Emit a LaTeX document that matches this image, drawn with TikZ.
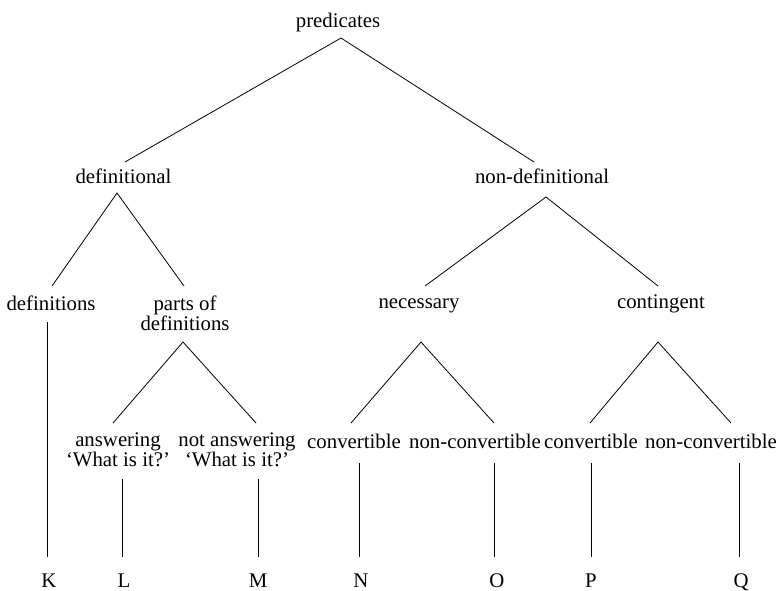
\documentclass[tikz,border=0pt]{standalone}
\usepackage{fontspec}
\setmainfont{Liberation Serif}
\begin{document}
\begin{tikzpicture}[x=1pt,y=-1pt,
  lbl/.style={inner sep=0pt, anchor=base, font=\fontsize{20.8}{19.5}\selectfont, align=center},
  edge/.style={line width=0.8pt}]
\useasboundingbox[fill=white] (0,0) rectangle (778,590);
% labels (positions are baselines of the last line)
\node[lbl] (pred)  at (338,27)  {predicates};
\node[lbl] (defl)  at (123.5,183) {definitional};
\node[lbl] (ndef)  at (542,183) {non-definitional};
\node[lbl] (defs)  at (51,310)  {definitions};
\node[lbl] (parts) at (185,330) {parts of\\definitions};
\node[lbl] (nec)   at (419,308) {necessary};
\node[lbl] (cont)  at (661,308) {contingent};
\node[lbl] (ans)   at (118,466) {answering\\‘What is it?’};
\node[lbl] (nans)  at (237,466) {not answering\\‘What is it?’};
\node[lbl] (conva) at (354,448) {convertible};
\node[lbl] (nconva) at (475,448) {non-convertible};
\node[lbl] (convb) at (591,448) {convertible};
\node[lbl] (nconvb) at (711,448) {non-convertible};
\node[lbl] (K) at (49,587) {K};
\node[lbl] (L) at (124,587) {L};
\node[lbl] (M) at (258,587) {M};
\node[lbl] (N) at (361,587) {N};
\node[lbl] (O) at (497,587) {O};
\node[lbl] (P) at (591,587) {P};
\node[lbl] (Q) at (741,587) {Q};
% connectors
\draw[edge] ([shift={(1.5,-21)}]defl.base) -- ([shift={(3,11)}]pred.base) -- ([shift={(-8,-21)}]ndef.base);
\draw[edge] ([shift={(1,-24)}]defs.base) -- ([shift={(-6.5,10)}]defl.base) -- ([shift={(-1,-44)}]parts.base);
\draw[edge] ([shift={(6,-22)}]nec.base) -- ([shift={(4,14)}]ndef.base) -- ([shift={(-3,-22)}]cont.base);
\draw[edge] ([shift={(-5,-43)}]ans.base) -- ([shift={(-2,12)}]parts.base) -- ([shift={(19,-43)}]nans.base);
\draw[edge] ([shift={(-3,-25)}]conva.base) -- ([shift={(2,34)}]nec.base) -- ([shift={(19,-25)}]nconva.base);
\draw[edge] ([shift={(-1,-25)}]convb.base) -- ([shift={(-3,34)}]cont.base) -- ([shift={(20,-25)}]nconvb.base);
\draw[edge] ([shift={(-4,12)}]defs.base) -- ([shift={(-2,-30)}]K.base);
\draw[edge] ([shift={(4,13)}]ans.base) -- ([shift={(-2,-30)}]L.base);
\draw[edge] ([shift={(21,13)}]nans.base) -- ([shift={(0,-30)}]M.base);
\draw[edge] ([shift={(5,15)}]conva.base) -- ([shift={(-2,-30)}]N.base);
\draw[edge] ([shift={(19,15)}]nconva.base) -- ([shift={(-3,-30)}]O.base);
\draw[edge] ([shift={(0,15)}]convb.base) -- ([shift={(0,-30)}]P.base);
\draw[edge] ([shift={(28,15)}]nconvb.base) -- ([shift={(-2,-30)}]Q.base);
\end{tikzpicture}
\end{document}
